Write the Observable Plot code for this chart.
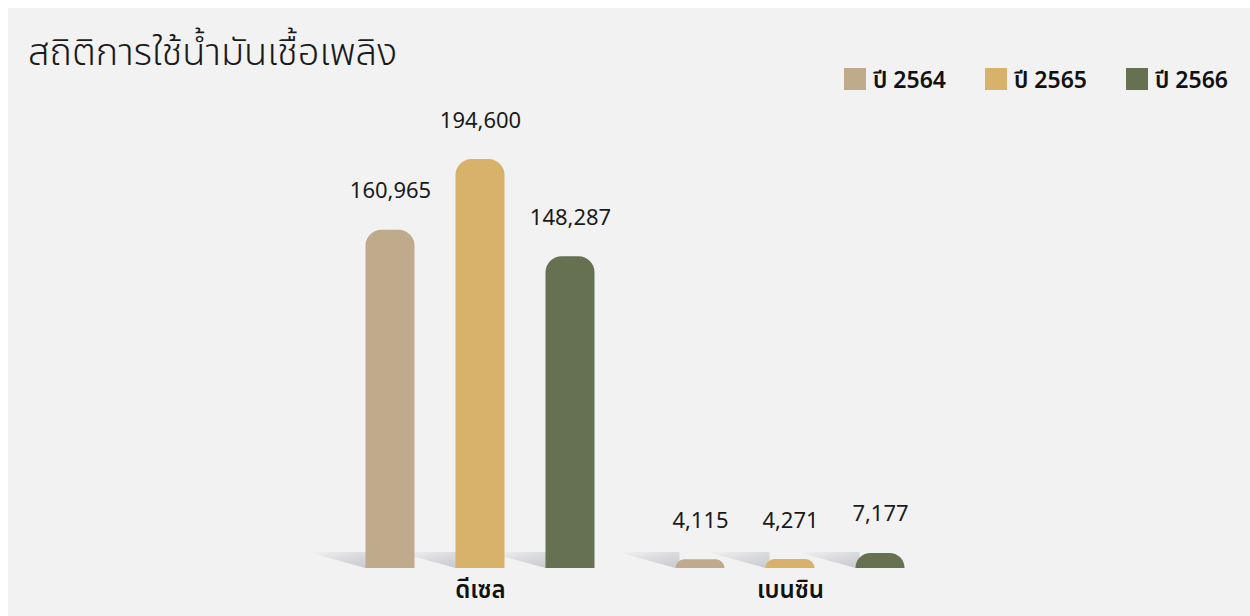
<!DOCTYPE html>
<html>
<head>
<meta charset="utf-8">
<script src="https://cdn.jsdelivr.net/npm/d3@7"></script>
<script src="https://cdn.jsdelivr.net/npm/@observablehq/plot@0.6"></script>
<style>
  body { margin: 0; background: #ffffff; font-family: "Noto Sans Thai", "Noto Sans", sans-serif; }
  #panel { position: absolute; left: 8px; top: 8px; width: 1242px; height: 608px; background: #f2f2f2; }
  #title { position: absolute; left: 28px; top: 35px; font-size: 38px; line-height: 38px; font-weight: 300; color: #1a1a1a; white-space: nowrap; }
  #legend { position: absolute; left: 844px; top: 68px; display: flex; gap: 0; font-size: 23px; font-weight: 600; color: #111; }
  .item { display: flex; align-items: center; width: 141px; height: 22px; }
  .item span { position: relative; top: 2px; }
  .sw { width: 22px; height: 22px; margin-right: 7px; flex: none; }
  #chart { position: absolute; left: 0; top: 0; }
</style>
</head>
<body>
<div id="panel"></div>
<div id="title"></div>
<div id="legend"></div>
<div id="chart"></div>
<script>
const titleText = "สถิติการใช้น้ำมันเชื้อเพลิง";
const categories = ["ดีเซล", "เบนซิน"];
const years = ["ปี 2564", "ปี 2565", "ปี 2566"];
const dieselValues = [160965, 194600, 148287];
const benzinValues = [4115, 4271, 7177];
const colors = ["#bfaa8c", "#d8b26a", "#657150"];

const seriesByCategory = [dieselValues, benzinValues];
const data = [];
categories.forEach((c, ci) => years.forEach((y, yi) => data.push({cat: c, year: y, value: seriesByCategory[ci][yi]})));

document.getElementById("title").textContent = titleText;
const legend = document.getElementById("legend");
years.forEach((y, i) => {
  const it = document.createElement("div"); it.className = "item";
  const sw = document.createElement("div"); sw.className = "sw"; sw.style.background = colors[i];
  const t = document.createElement("span"); t.textContent = y;
  it.appendChild(sw); it.appendChild(t); legend.appendChild(it);
});

const fmt = d3.format(",");
const font = '"Noto Sans Thai", "Noto Sans", sans-serif';

const shadow = Plot.barY(data, {
  fx: "cat", x: "year", y: "value",
  render(index, scales, values, dimensions) {
    const base = dimensions.height - dimensions.marginBottom;
    const g = d3.create("svg:g");
    const defs = g.append("defs");
    const grad = defs.append("linearGradient").attr("id", "shadowGrad")
      .attr("x1", "0").attr("y1", "0").attr("x2", "0.9").attr("y2", "1");
    grad.append("stop").attr("offset", "0").attr("stop-color", "#d8d9dc").attr("stop-opacity", 0);
    grad.append("stop").attr("offset", "0.5").attr("stop-color", "#d8d9dc").attr("stop-opacity", 0.9);
    grad.append("stop").attr("offset", "1").attr("stop-color", "#c9cacf").attr("stop-opacity", 1);
    for (const i of index) {
      const x0 = values.x[i];
      g.append("polygon")
        .attr("points", `${x0 - 58},${base - 16} ${x0 + 4},${base - 16} ${x0 + 4},${base} ${x0},${base}`)
        .attr("fill", "url(#shadowGrad)");
    }
    return g.node();
  }
});

const chart = Plot.plot({
  width: 1250,
  height: 616,
  marginLeft: 344.5,
  marginRight: 325.5,
  marginTop: 159,
  marginBottom: 48,
  style: {background: "transparent", fontFamily: font, overflow: "visible"},
  fx: {domain: categories, paddingInner: 40 / 310, paddingOuter: 0, axis: null, label: null},
  x: {domain: years, paddingInner: 0.4556, paddingOuter: 0.2278, axis: null, label: null},
  y: {domain: [0, d3.max(data, d => d.value)], axis: null, label: null},
  color: {domain: years, range: colors},
  marks: [
    shadow,
    Plot.barY(data, {fx: "cat", x: "year", y: "value", fill: "year", ry1: 16}),
    Plot.text(data, {fx: "cat", x: "year", y: "value", text: d => fmt(d.value), dy: -39, fontSize: 22, fill: "#1a1a1a"}),
    Plot.text(categories, {fx: d => d, text: d => d, frameAnchor: "bottom", dy: 29, fontSize: 24, fontWeight: 600, fill: "#111"})
  ]
});
document.getElementById("chart").appendChild(chart);
</script>
</body>
</html>
